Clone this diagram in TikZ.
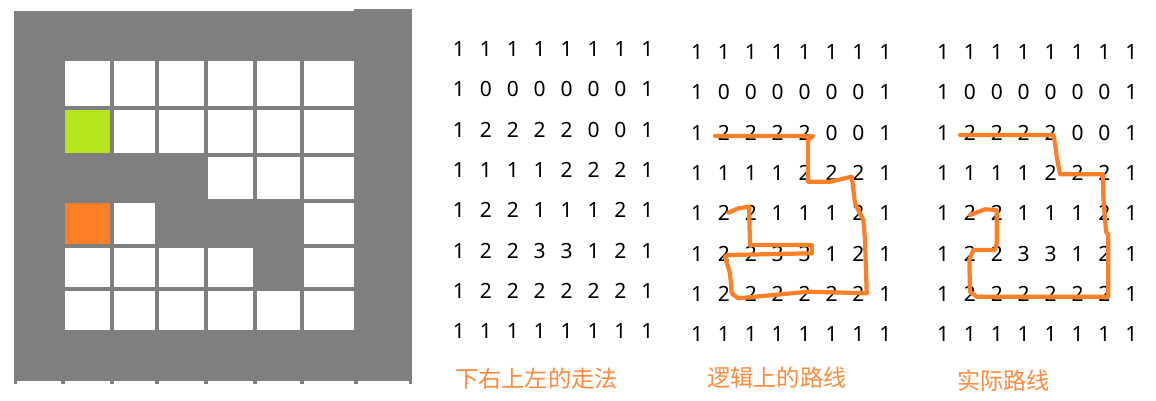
\documentclass[tikz,border=0pt]{standalone}
\usepackage{fontspec}
\setmainfont{Noto Sans}
\newfontfamily\cjk{Noto Sans CJK SC}
\definecolor{wallgray}{HTML}{7F7F7F}
\definecolor{startgreen}{HTML}{B5E61D}
\definecolor{endorange}{HTML}{FF7F27}
\definecolor{pathorange}{HTML}{FF7F27}
\definecolor{labelorange}{HTML}{FF8A3D}
\begin{document}
\begin{tikzpicture}[x=1pt,y=-1pt,
  digit/.style={inner sep=0pt,font=\fontsize{21}{25}\selectfont,text=black},
  route/.style={draw=pathorange,line width=4.2pt,line join=round,line cap=round},
  caption/.style={inner sep=0pt,font=\cjk\fontsize{23.2}{27}\selectfont,text=labelorange,anchor=west}]
\useasboundingbox (0,0) rectangle (1156,400);
% maze background
\fill[wallgray] (14,11) rectangle (354,381);
\fill[wallgray] (354,9) rectangle (412,381);
\foreach \a/\b in {14/17,61/65,110/114,155/159,204/208,253/257,300/304,354/358,409/412}
  \fill[wallgray] (\a,381) rectangle (\b,384);
% cells
\def\cx{{65,114,159,208,257,304}}
\def\cxe{{110,155,204,253,300,354}}
\def\ry{{61,110,157,203,248,291}}
\def\rye{{106,153,199,244,287,330}}
\foreach \r/\c/\col in {0/0/white,0/1/white,0/2/white,0/3/white,0/4/white,0/5/white,
  1/0/startgreen,1/1/white,1/2/white,1/3/white,1/4/white,1/5/white,
  2/3/white,2/4/white,2/5/white,
  3/0/endorange,3/1/white,3/5/white,
  4/0/white,4/1/white,4/2/white,4/3/white,4/5/white,
  5/0/white,5/1/white,5/2/white,5/3/white,5/4/white,5/5/white}{
  \pgfmathsetmacro{\xa}{\cx[\c]}
  \pgfmathsetmacro{\xb}{\cxe[\c]}
  \pgfmathsetmacro{\ya}{\ry[\r]}
  \pgfmathsetmacro{\yb}{\rye[\r]}
  \fill[\col] (\xa,\ya) rectangle (\xb,\yb);
}
% matrices
\foreach \m/\xo/\yo in {a/459/49, b/697/52, c/943/52}{
  \foreach \r/\rowlist in {0/{1,1,1,1,1,1,1,1},1/{1,0,0,0,0,0,0,1},2/{1,2,2,2,2,0,0,1},
      3/{1,1,1,1,2,2,2,1},4/{1,2,2,1,1,1,2,1},5/{1,2,2,3,3,1,2,1},
      6/{1,2,2,2,2,2,2,1},7/{1,1,1,1,1,1,1,1}}{
    \foreach \d [count=\c from 0] in \rowlist{
      \node[digit] (\m-\r-\c) at ({\xo+\c*26.9},{\yo+\r*40.3}) {\d};
    }
  }
}
% logical route
\draw[route] (715,136) -- (813,136) -- (808,140) -- (808,181.7) -- (830,181.7) -- (851.7,176.7)
  -- (855,203.3) -- (863.3,220) -- (865,240) -- (866.7,293.3) -- (808.3,291.7) -- (738.3,298.3)
  -- (731.7,293.3) -- (730,273.3) -- (725,256.7) -- (728.3,255) -- (811.7,253.3) -- (811.7,245)
  -- (750,245) -- (749,206.7) -- (738.3,208.3) -- (728.3,212.7);
% actual route
\draw[route] (960,135) -- (1053.3,135) -- (1055,143.3) -- (1056.7,156.7) -- (1060,174.3)
  -- (1102.7,174.3) -- (1103.3,196.7) -- (1106,231.7) -- (1108.3,235) -- (1108.3,296.7)
  -- (976.7,296.7) -- (970,291.7) -- (969.3,260) -- (973.3,250) -- (995,250) -- (996.7,243.3)
  -- (996.7,210) -- (985,209.3) -- (970,215);
% captions
\node[caption] (cap1) at (455,379) {下右上左的走法};
\node[caption] (cap2) at (707,378) {逻辑上的路线};
\node[caption] (cap3) at (957,381) {实际路线};
\end{tikzpicture}
\end{document}
